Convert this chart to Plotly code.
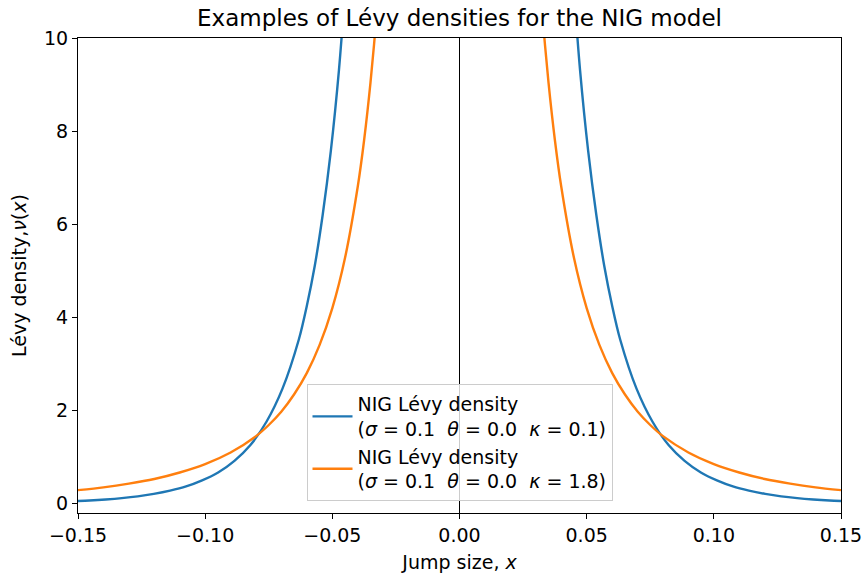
import plotly.graph_objects as go

# Blue curve: NIG Lévy density (sigma=0.1, theta=0.0, kappa=0.1)
blue_x_right = [0.0443, 0.0474, 0.0506, 0.0538, 0.0569, 0.0601, 0.0632, 0.0696, 0.0759,
                0.0822, 0.0885, 0.0949, 0.1012, 0.1075, 0.1138, 0.1202, 0.1265, 0.1328,
                0.1391, 0.1455, 0.1500]
blue_y_right = [11.53, 9.31, 7.57, 6.20, 5.11, 4.23, 3.52, 2.47, 1.76,
                1.26, 0.92, 0.67, 0.50, 0.37, 0.28, 0.21, 0.157, 0.119,
                0.091, 0.069, 0.058]
blue_x_left = [-0.1500, -0.1455, -0.1391, -0.1328, -0.1265, -0.1202, -0.1138, -0.1075,
               -0.1012, -0.0949, -0.0885, -0.0822, -0.0759, -0.0696, -0.0632, -0.0601,
               -0.0569, -0.0538, -0.0506, -0.0474, -0.0443]
blue_y_left = [0.058, 0.069, 0.091, 0.119, 0.157, 0.21, 0.28, 0.37,
               0.50, 0.67, 0.92, 1.26, 1.76, 2.47, 3.52, 4.23,
               5.11, 6.20, 7.57, 9.31, 11.53]

# Orange curve: NIG Lévy density (sigma=0.1, theta=0.0, kappa=1.8)
orange_x_right = [0.030, 0.0325, 0.035, 0.0375, 0.040, 0.045, 0.050, 0.055, 0.060, 0.065,
                  0.070, 0.075, 0.080, 0.090, 0.100, 0.110, 0.120, 0.130, 0.140, 0.150]
orange_y_right = [12.49, 10.56, 9.04, 7.81, 6.81, 5.28, 4.20, 3.41, 2.81, 2.35,
                  1.98, 1.69, 1.45, 1.10, 0.85, 0.67, 0.53, 0.43, 0.35, 0.29]
orange_x_left = [-0.150, -0.140, -0.130, -0.120, -0.110, -0.100, -0.090, -0.080, -0.075,
                 -0.070, -0.065, -0.060, -0.055, -0.050, -0.045, -0.040, -0.0375, -0.035,
                 -0.0325, -0.030]
orange_y_left = [0.29, 0.35, 0.43, 0.53, 0.67, 0.85, 1.10, 1.45, 1.69,
                 1.98, 2.35, 2.81, 3.41, 4.20, 5.28, 6.81, 7.81, 9.04,
                 10.56, 12.49]

x_ticks = [-0.15, -0.10, -0.05, 0.00, 0.05, 0.10, 0.15]
x_tick_labels = ["\u22120.15", "\u22120.10", "\u22120.05", "0.00", "0.05", "0.10", "0.15"]
y_ticks = [0, 2, 4, 6, 8, 10]

name_blue = "NIG Lévy density<br>(<i>σ</i> = 0.1\u00a0\u00a0<i>θ</i> = 0.0\u00a0\u00a0<i>κ</i> = 0.1)"
name_orange = "NIG Lévy density<br>(<i>σ</i> = 0.1\u00a0\u00a0<i>θ</i> = 0.0\u00a0\u00a0<i>κ</i> = 1.8)"

FONT = "DejaVu Sans"

fig = go.Figure()
fig.add_trace(go.Scatter(
    x=blue_x_left + [None] + blue_x_right,
    y=blue_y_left + [None] + blue_y_right,
    mode="lines", name=name_blue,
    line=dict(color="#1f77b4", width=2.4, shape="spline", smoothing=0.8),
    connectgaps=False,
))
fig.add_trace(go.Scatter(
    x=orange_x_left + [None] + orange_x_right,
    y=orange_y_left + [None] + orange_y_right,
    mode="lines", name=name_orange,
    line=dict(color="#ff7f0e", width=2.4, shape="spline", smoothing=0.8),
    connectgaps=False,
))

fig.add_shape(type="line", xref="x", yref="paper", x0=0, x1=0, y0=0, y1=1,
              line=dict(color="black", width=1), layer="above")

axis_common = dict(
    showline=True, mirror=True, linecolor="black", linewidth=1.2,
    ticks="outside", ticklen=5, tickwidth=1.2, tickcolor="black",
    showgrid=False, zeroline=False, automargin=False,
    tickfont=dict(family=FONT, size=19, color="black"),
)

fig.update_layout(
    width=863, height=577,
    margin=dict(l=78, r=22, t=38, b=64),
    paper_bgcolor="white", plot_bgcolor="white",
    font=dict(family=FONT, color="black"),
    title=dict(text="Examples of Lévy densities for the NIG model",
               x=0.5, xref="paper", y=1 - 18 / 577, yref="container",
               xanchor="center", yanchor="middle",
               font=dict(family=FONT, size=23, color="black")),
    xaxis=dict(range=[-0.15, 0.15], tickvals=x_ticks, ticktext=x_tick_labels,
               title=dict(text="Jump size, <i>x</i>", standoff=10,
                          font=dict(family=FONT, size=19, color="black")),
               **axis_common),
    yaxis=dict(range=[-0.2, 10], tickvals=y_ticks,
               title=dict(text="Lévy density,<i>ν</i>(<i>x</i>)", standoff=12,
                          font=dict(family=FONT, size=19, color="black")),
               **axis_common),
    legend=dict(x=0.5, y=0.025, xanchor="center", yanchor="bottom",
                bgcolor="rgba(255,255,255,0.8)", bordercolor="#cccccc", borderwidth=1,
                font=dict(family=FONT, size=19, color="black"),
                itemwidth=40, tracegroupgap=0),
    showlegend=True,
)

fig.write_html("out.html")
